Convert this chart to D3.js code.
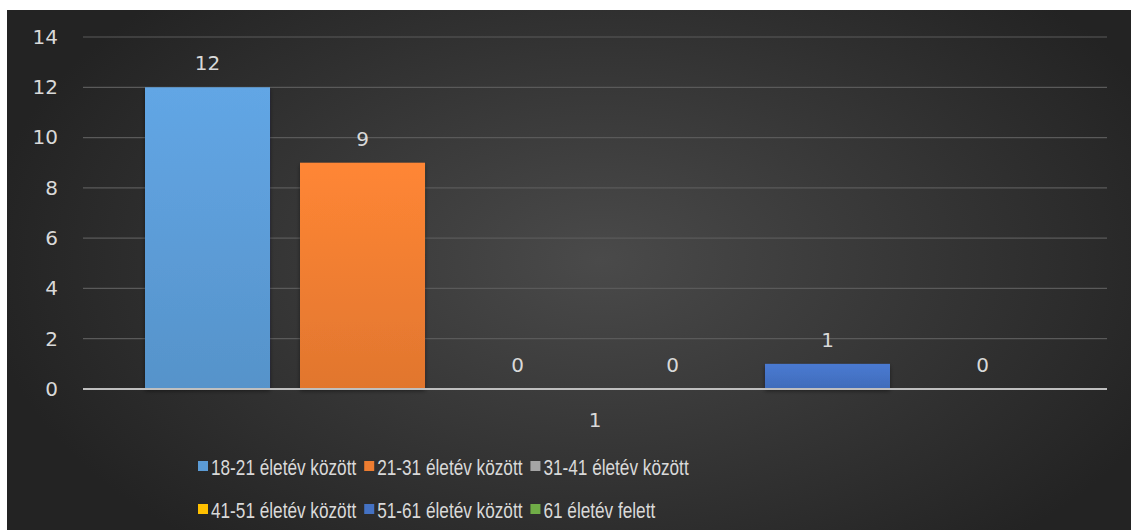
<!DOCTYPE html>
<html>
<head>
<meta charset="utf-8">
<script src="https://cdn.jsdelivr.net/npm/d3@7"></script>
<style>
  html, body { margin: 0; padding: 0; background: #ffffff; }
  svg { display: block; }
</style>
</head>
<body>
<svg id="chart" width="1131" height="530"></svg>
<script>
// Chart data
const categories = ["1"];
const seriesNames = [
  "18-21 életév között",
  "21-31 életév között",
  "31-41 életév között",
  "41-51 életév között",
  "51-61 életév között",
  "61 életév felett"
];
const seriesValues = [12, 9, 0, 0, 1, 0];
const seriesColors = ["#5b9bd5", "#ed7d31", "#a5a5a5", "#ffc000", "#4472c4", "#70ad47"];
const yTicks = [0, 2, 4, 6, 8, 10, 12, 14];

const svg = d3.select("#chart");
const W = 1131, H = 530;
const frame = { left: 7, top: 10, right: W, bottom: H };
const plot = { left: 83, right: 1107, top: 37, bottom: 389 };
const numFont = "'DejaVu Sans', Verdana, sans-serif";
const legendFont = "'Liberation Sans Narrow', 'Arial Narrow', 'Liberation Sans', Arial, sans-serif";

const defs = svg.append("defs");

// Dark background with a soft light spot in the middle
const bg = defs.append("radialGradient").attr("id", "bgGrad")
  .attr("gradientUnits", "userSpaceOnUse")
  .attr("cx", 600).attr("cy", 260).attr("r", 620)
  .attr("gradientTransform", "translate(600,260) scale(1,0.6) translate(-600,-260)");
bg.append("stop").attr("offset", "0%").attr("stop-color", "#4a4a4a");
bg.append("stop").attr("offset", "100%").attr("stop-color", "#232323");

// Vertical shading per bar colour
seriesColors.forEach((c, i) => {
  const g = defs.append("linearGradient").attr("id", "barGrad" + i)
    .attr("x1", 0).attr("y1", 0).attr("x2", 0).attr("y2", 1);
  g.append("stop").attr("offset", "0%").attr("stop-color", d3.color(c).brighter(0.2));
  g.append("stop").attr("offset", "100%").attr("stop-color", d3.color(c).darker(0.15));
});

const shadow = defs.append("filter").attr("id", "barShadow")
  .attr("x", "-10%").attr("y", "-10%").attr("width", "120%").attr("height", "130%");
shadow.append("feDropShadow").attr("dx", 0).attr("dy", 2).attr("stdDeviation", 2)
  .attr("flood-color", "#000").attr("flood-opacity", 0.45);

svg.append("rect")
  .attr("x", frame.left).attr("y", frame.top)
  .attr("width", frame.right - frame.left).attr("height", frame.bottom - frame.top)
  .attr("fill", "url(#bgGrad)");

// Scales
const y = d3.scaleLinear().domain([0, 14]).range([plot.bottom, plot.top]);
const x0 = d3.scaleBand().domain(categories).range([plot.left, plot.right]).padding(0);
const x1 = d3.scaleBand().domain(seriesNames).range([0, x0.bandwidth()])
  .paddingInner(0.1935).paddingOuter(0.4);

// Gridlines
svg.append("g").selectAll("line")
  .data(yTicks.filter(t => t > 0))
  .join("line")
  .attr("x1", plot.left).attr("x2", plot.right)
  .attr("y1", d => y(d)).attr("y2", d => y(d))
  .attr("stroke", "#5a5a5a").attr("stroke-width", 1.2);

// Y axis labels
const yAxis = d3.axisLeft(y).tickValues(yTicks).tickSize(0).tickPadding(0);
const yg = svg.append("g").attr("transform", `translate(58,0)`).call(yAxis)
  .attr("font-family", numFont).attr("font-size", 20);
yg.select(".domain").remove();
yg.selectAll("text").attr("fill", "#d9d9d9");

// Bars
const groups = svg.append("g").selectAll("g")
  .data(categories)
  .join("g")
  .attr("transform", d => `translate(${x0(d)},0)`);

groups.selectAll("rect")
  .data(() => seriesNames.map((s, i) => ({ name: s, value: seriesValues[i], i })))
  .join("rect")
  .attr("x", d => x1(d.name))
  .attr("y", d => y(d.value))
  .attr("width", x1.bandwidth())
  .attr("height", d => y(0) - y(d.value))
  .attr("fill", d => `url(#barGrad${d.i})`)
  .attr("filter", "url(#barShadow)");

// Value labels
groups.selectAll("text.value")
  .data(() => seriesNames.map((s, i) => ({ name: s, value: seriesValues[i] })))
  .join("text")
  .attr("class", "value")
  .attr("x", d => x1(d.name) + x1.bandwidth() / 2)
  .attr("y", d => y(d.value) - 17)
  .attr("text-anchor", "middle")
  .attr("fill", "#d9d9d9")
  .attr("font-family", numFont)
  .attr("font-size", 20)
  .text(d => d.value);

// Category axis
svg.append("line")
  .attr("x1", plot.left).attr("x2", plot.right)
  .attr("y1", y(0)).attr("y2", y(0))
  .attr("stroke", "#bfbfbf").attr("stroke-width", 2);

const xAxis = d3.axisBottom(x0).tickSize(0).tickPadding(0);
const xg = svg.append("g").attr("transform", `translate(0,${y(0) + 38})`).call(xAxis)
  .attr("font-family", numFont).attr("font-size", 20);
xg.select(".domain").remove();
xg.selectAll("text").attr("dy", 0).attr("fill", "#d9d9d9");

// Legend in two rows; text condensed horizontally
const legendRows = [[0, 1, 2], [3, 4, 5]];
const rowY = [467, 510];
const squeeze = 0.8;
legendRows.forEach((row, r) => {
  let xPos = 198;
  row.forEach(i => {
    const item = svg.append("g").attr("transform", `translate(${xPos},${rowY[r]})`);
    item.append("rect")
      .attr("x", 0).attr("y", -6).attr("width", 10).attr("height", 10)
      .attr("fill", seriesColors[i]);
    const t = item.append("text")
      .attr("transform", `translate(13,0) scale(${squeeze},1)`)
      .attr("dy", "0.35em")
      .attr("fill", "#d9d9d9")
      .attr("font-family", legendFont)
      .attr("font-size", 21.5)
      .text(seriesNames[i]);
    xPos += 13 + t.node().getComputedTextLength() * squeeze + 8;
  });
});
</script>
</body>
</html>
